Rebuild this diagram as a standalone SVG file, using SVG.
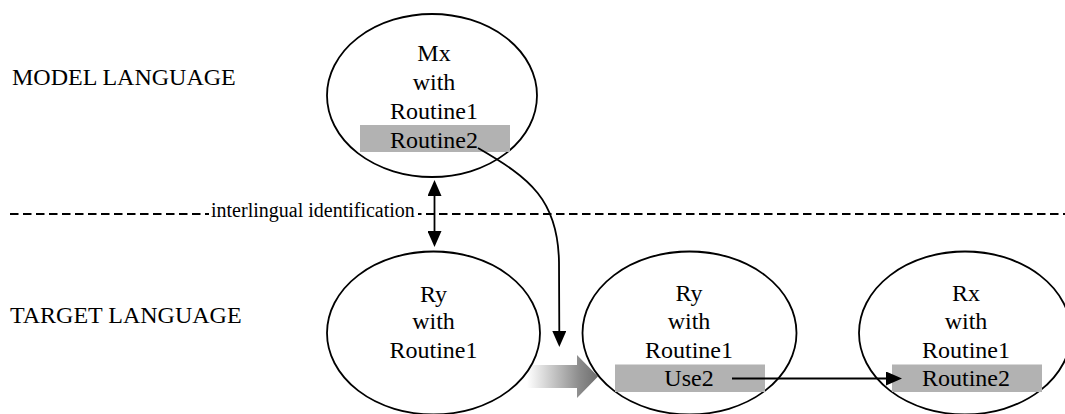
<svg xmlns="http://www.w3.org/2000/svg" width="1065" height="414" viewBox="0 0 1065 414">
  <style>
    .lbl { font-family: "Liberation Serif", "Times New Roman", serif; font-size: 24px; fill: #000; }
    .node text { font-family: "Liberation Serif", "Times New Roman", serif; font-size: 24px; fill: #000; text-anchor: middle; }
    .small { font-family: "Liberation Serif", "Times New Roman", serif; font-size: 20px; fill: #000; }
    .oval { fill: none; stroke: #000; stroke-width: 1.8; }
    .hl { fill: #b2b2b2; }
    .conn { fill: none; stroke: #000; stroke-width: 1.8; }
  </style>
  <defs>
    <marker id="head" markerUnits="userSpaceOnUse" markerWidth="16" markerHeight="14" refX="2" refY="7" orient="auto-start-reverse" viewBox="0 0 16 14">
      <path d="M0,0 L16,7 L0,14 z" fill="#000"/>
    </marker>
    <linearGradient id="fade" gradientUnits="userSpaceOnUse" x1="527" y1="0" x2="598" y2="0">
      <stop offset="0" stop-color="#ffffff"/>
      <stop offset="0.75" stop-color="#8a8a8a"/>
      <stop offset="1" stop-color="#6e6e6e"/>
    </linearGradient>
  </defs>

  <rect width="1065" height="414" fill="#fff"/>

  <!-- level labels -->
  <text class="lbl" x="12" y="85">MODEL LANGUAGE</text>
  <text class="lbl" x="10" y="323">TARGET LANGUAGE</text>

  <!-- boundary between the two languages -->
  <g id="boundary">
    <line x1="10" y1="214" x2="1065" y2="214" stroke="#000" stroke-width="2" stroke-dasharray="8.5 4.5"/>
    <rect x="209" y="201" width="209" height="22" fill="#fff"/>
    <text class="small" x="211" y="217">interlingual identification</text>
  </g>

  <!-- translation step (shaded arrow) -->
  <g id="step">
    <path d="M527,365 L577,365 L577,355 L598,376.5 L577,398 L577,388 L527,388 z" fill="url(#fade)"/>
  </g>

  <g id="mx" class="node">
    <ellipse class="oval" cx="432" cy="95.5" rx="105" ry="81.5"/>
    <rect class="hl" x="360" y="125" width="150" height="27"/>
    <text x="434" y="61">Mx</text>
    <text x="434" y="89.5">with</text>
    <text x="434" y="118.5">Routine1</text>
    <text x="434" y="147.5">Routine2</text>
  </g>

  <g id="ry-plain" class="node">
    <ellipse class="oval" cx="433.5" cy="333" rx="106.5" ry="81.5"/>
    <text x="433.5" y="301.5">Ry</text>
    <text x="433.5" y="329">with</text>
    <text x="433.5" y="357.5">Routine1</text>
  </g>

  <g id="ry-use" class="node">
    <ellipse class="oval" cx="689.5" cy="333" rx="107" ry="81.5"/>
    <rect class="hl" x="615" y="364.5" width="150" height="27.5"/>
    <text x="689" y="301">Ry</text>
    <text x="689" y="328.5">with</text>
    <text x="689" y="357.5">Routine1</text>
    <text x="689" y="386">Use2</text>
  </g>

  <g id="rx" class="node">
    <ellipse class="oval" cx="965" cy="333" rx="106" ry="81.5"/>
    <rect class="hl" x="892" y="364.5" width="150" height="27.5"/>
    <text x="966" y="301">Rx</text>
    <text x="966" y="328.5">with</text>
    <text x="966" y="357.5">Routine1</text>
    <text x="966" y="386">Routine2</text>
  </g>

  <g id="connectors">
    <line class="conn" x1="434.5" y1="194" x2="434.5" y2="233" marker-start="url(#head)" marker-end="url(#head)"/>
    <path class="conn" d="M478,148 C530,178 558,200 559,262 L559.3,333" marker-end="url(#head)"/>
    <line class="conn" x1="732" y1="378.5" x2="888" y2="378.5" marker-end="url(#head)"/>
  </g>
</svg>
